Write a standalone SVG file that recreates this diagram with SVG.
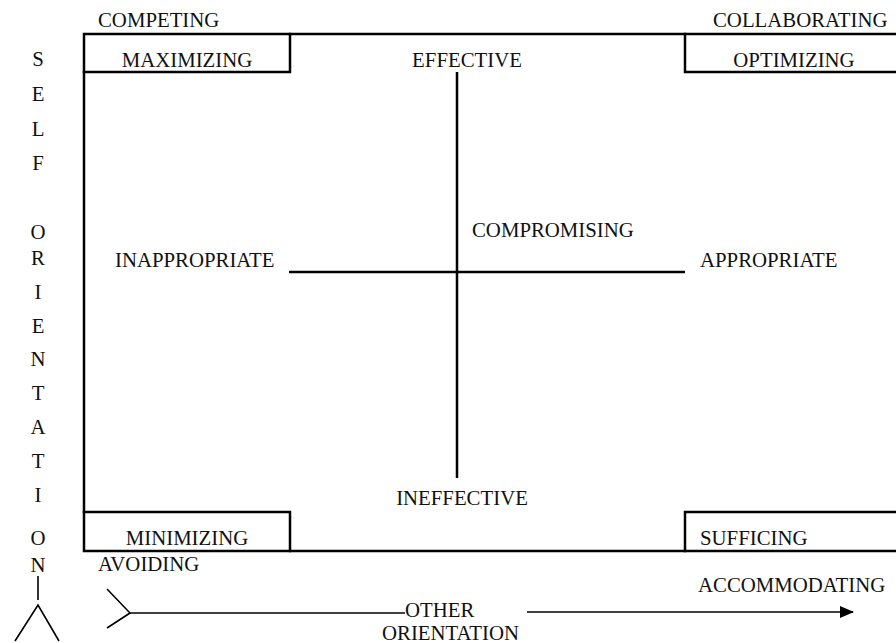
<svg xmlns="http://www.w3.org/2000/svg" width="896" height="643" viewBox="0 0 896 643">
  <style>
    text { font-family: "Liberation Serif", "Times New Roman", serif; font-size: 20.8px; fill: #111; }
    .mid { text-anchor: middle; }
    .frame { fill: none; stroke: #000; stroke-width: 2.5; stroke-linecap: square; }
    .axis { fill: none; stroke: #000; stroke-width: 2.5; }
    .thin { fill: none; stroke: #000; stroke-width: 1.6; }
  </style>
  <defs>
    <marker id="head" viewBox="0 0 14 12" refX="13" refY="6" markerWidth="14" markerHeight="12" markerUnits="userSpaceOnUse" orient="auto">
      <path d="M0,0 L14,6 L0,12 Z" fill="#000"/>
    </marker>
  </defs>
  <rect width="896" height="643" fill="#fff"/>

  <!-- outer frame -->
  <g id="frame">
    <path class="frame" d="M896,34 H84 V551 H896"/>
  </g>

  <!-- corner boxes -->
  <g id="maximizing">
    <path class="frame" d="M84,72 H290 V34"/>
    <text class="mid" x="187" y="67">MAXIMIZING</text>
  </g>
  <g id="optimizing">
    <path class="frame" d="M685,34 V72 H896"/>
    <text class="mid" x="794" y="67">OPTIMIZING</text>
  </g>
  <g id="minimizing">
    <path class="frame" d="M84,512 H290 V551"/>
    <text class="mid" x="187" y="545">MINIMIZING</text>
  </g>
  <g id="sufficing">
    <path class="frame" d="M685,551 V512 H896"/>
    <text x="700" y="545">SUFFICING</text>
  </g>

  <!-- style labels -->
  <g id="competing"><text x="98" y="27">COMPETING</text></g>
  <g id="collaborating"><text x="713" y="27">COLLABORATING</text></g>
  <g id="avoiding"><text x="98" y="571">AVOIDING</text></g>
  <g id="accommodating"><text x="698" y="592">ACCOMMODATING</text></g>
  <g id="compromising"><text x="472" y="237">COMPROMISING</text></g>

  <!-- effectiveness and appropriateness poles -->
  <g id="effective"><text class="mid" x="467" y="67">EFFECTIVE</text></g>
  <g id="ineffective"><text class="mid" x="462" y="505">INEFFECTIVE</text></g>
  <g id="inappropriate"><text x="115" y="267">INAPPROPRIATE</text></g>
  <g id="appropriate"><text x="700" y="267">APPROPRIATE</text></g>

  <!-- axis titles -->
  <g id="self-orientation">
    <text class="mid" x="38" y="66">S</text>
    <text class="mid" x="38" y="101">E</text>
    <text class="mid" x="38" y="136">L</text>
    <text class="mid" x="38" y="170">F</text>
    <text class="mid" x="38" y="239">O</text>
    <text class="mid" x="38" y="265">R</text>
    <text class="mid" x="38" y="299">I</text>
    <text class="mid" x="38" y="333">E</text>
    <text class="mid" x="38" y="366">N</text>
    <text class="mid" x="38" y="400">T</text>
    <text class="mid" x="38" y="434">A</text>
    <text class="mid" x="38" y="468">T</text>
    <text class="mid" x="38" y="502">I</text>
    <text class="mid" x="38" y="545">O</text>
    <text class="mid" x="38" y="572">N</text>
  </g>
  <g id="other-orientation">
    <text x="405" y="617">OTHER</text>
    <text x="382" y="640">ORIENTATION</text>
  </g>

  <!-- connectors: central cross and the two orientation axes -->
  <g id="connectors">
    <line class="axis" x1="457" y1="72" x2="457" y2="478"/>
    <line class="axis" x1="289" y1="272" x2="685" y2="272"/>
    <line class="thin" x1="38" y1="576" x2="38" y2="600"/>
    <path class="thin" d="M15,641 L38,605 L59,641"/>
    <path class="thin" d="M107,589 L130,613 L107,628"/>
    <line class="thin" x1="130" y1="613" x2="405" y2="613"/>
    <line class="thin" x1="527" y1="612" x2="853" y2="612" marker-end="url(#head)"/>
  </g>
</svg>
